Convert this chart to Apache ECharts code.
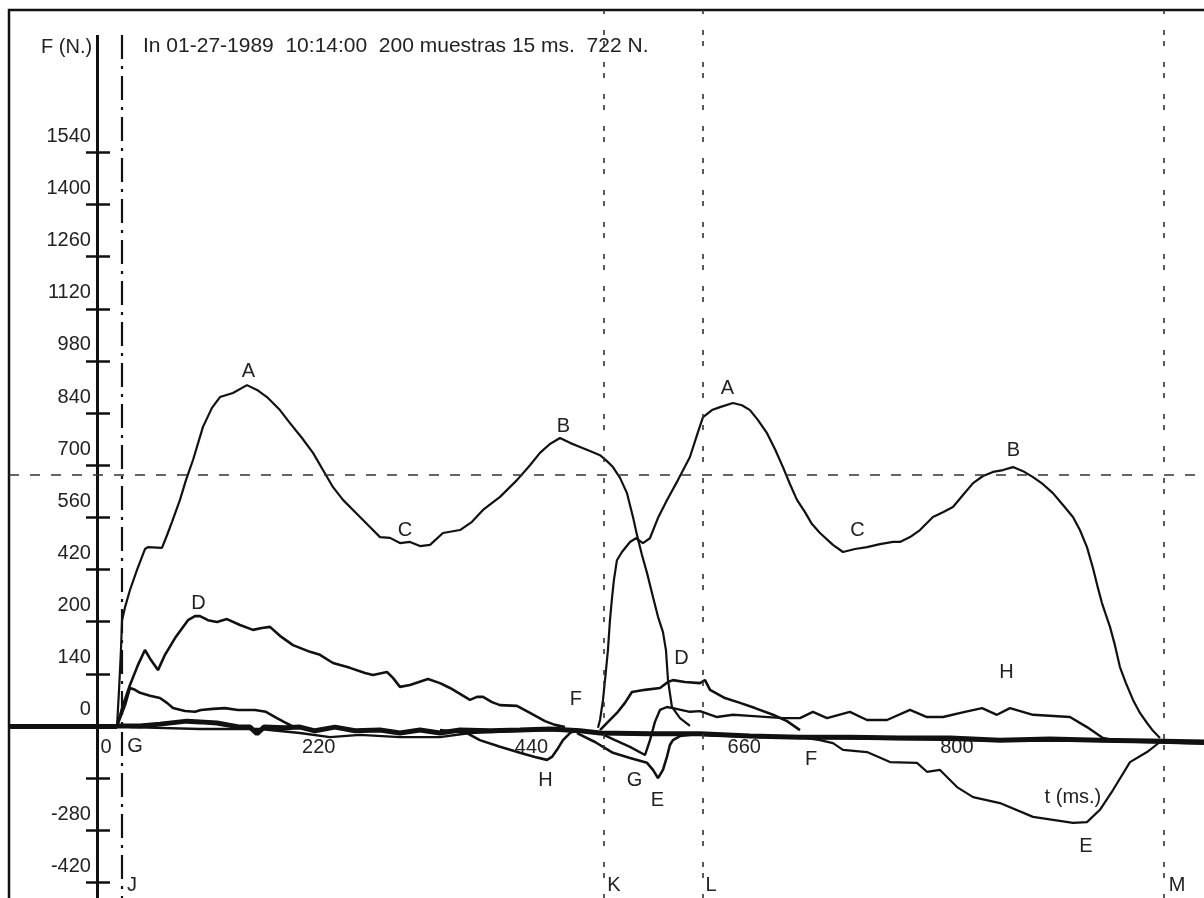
<!DOCTYPE html>
<html><head><meta charset="utf-8">
<script src="https://cdn.jsdelivr.net/npm/echarts@6/dist/echarts.min.js"></script>
<style>html,body{margin:0;padding:0;background:#fff}#c{width:1204px;height:898px}</style>
</head><body><div id="c"></div>
<script>
// ---- axis ticks / labels ----
const yTickValues = [-420,-280,-140,140,280,420,560,700,840,980,1120,1260,1400,1540];
const yLabelValues = [-420,-280,0,140,280,420,560,700,840,980,1120,1260,1400,1540];
const yLabelTexts  = ['-420','-280','0','140','200','420','560','700','840','980','1120','1260','1400','1540'];
const xLabelValues = [0,220,440,660,880];
const xLabelTexts  = ['0','220','440','660','800'];

// ---- event markers (ms) and reference force (N) ----
const markerJ = 26, markerK = 524, markerL = 626, markerM = 1103;
const refForce = 675;
const traceStart = 20.7;

// ---- traces [t (ms), F (N)] ----
const fz1 = [[20.7,0],[22.8,97],[24.8,204],[25.9,284],[29,319],[34.1,365],[41.4,419],[49.6,475],[52.7,480],[67.2,478],[72.4,512],[77.6,548],[85.8,607],[92,660],[99.3,714],[109.6,803],[118.9,854],[127.2,883],[140.6,894],[155.1,915],[165.5,902],[175.8,883],[189.2,848],[199.6,813],[212,773],[223.4,733],[233.7,687],[244.1,641],[254.4,607],[272,561],[282.3,534],[292.7,507],[303,505],[313.3,491],[323.7,494],[334,483],[344.4,486],[357.8,518],[375.4,526],[387.8,548],[399.2,580],[416.8,615],[434.3,660],[447.8,700],[458.1,733],[468.4,757],[478.8,773],[489.1,760],[499.5,749],[509.8,738],[520.2,727],[527.4,711],[533.6,695],[540.9,666],[548.1,625],[554.3,561],[558.4,513],[563.6,459],[568.8,411],[575,346],[580.2,293],[585.3,252],[588.4,204],[590.5,123],[594.6,51],[602.9,21],[613.2,0]];
const fz2 = [[518.1,-5],[520.2,16],[523.3,70],[526.4,150],[528.4,204],[530.5,284],[532.6,343],[534.6,392],[537.7,445],[542.9,467],[551.2,494],[557.4,504],[564.6,491],[571.8,504],[580.1,558],[589.4,606],[600.8,660],[613.2,722],[621.5,789],[626.7,829],[636,848],[644.3,856],[657.7,867],[667,861],[675.3,848],[683.6,821],[692.9,786],[701.2,743],[709.4,695],[716.7,649],[723.9,607],[732.2,574],[739.4,542],[747.7,518],[761.1,486],[771.5,467],[783.9,475],[796.3,480],[809.7,488],[823.2,494],[830.4,494],[840.8,507],[851.1,526],[864.5,561],[874.9,574],[885.2,588],[895.6,620],[906,652],[916.3,671],[926.6,682],[937,687],[947.3,695],[957.7,684],[968,668],[978.3,649],[988.6,625],[999,593],[1009.3,561],[1016.5,526],[1023.8,480],[1030,424],[1035.2,370],[1039.3,330],[1043.4,298],[1047.6,266],[1052.7,217],[1057.9,158],[1064.1,115],[1071.4,70],[1078.6,35],[1085.9,8],[1092.1,-13],[1099.3,-32]];
const d1 = [[20.7,0],[26.9,56],[34.1,110],[42.4,164],[49.6,204],[55.8,177],[63.1,150],[70.3,191],[80.7,236],[94.1,284],[101.3,295],[106.5,295],[114.8,284],[124.1,279],[134.4,287],[147.9,271],[161.3,258],[170.6,263],[178.9,266],[189.2,242],[202.7,217],[220.3,199],[230.6,191],[244.1,169],[261.6,156],[277.2,142],[285.4,137],[299.9,145],[306.1,129],[313.3,105],[323.7,110],[342.3,126],[354.7,115],[365.1,102],[375.4,86],[385.7,70],[393,78],[399.2,78],[408.5,64],[416.8,56],[434.3,54],[447.8,35],[463.3,13],[473.6,3],[484,-3]];
const g1 = [[20.7,0],[29,56],[34.1,102],[39.3,97],[44.5,89],[54.8,81],[65.1,75],[72.4,62],[78.6,48],[91,40],[101.3,38],[107.5,43],[119.9,46],[132.3,48],[145.7,43],[163.3,43],[174.7,38],[186.1,21],[193.3,11],[201.6,0]];
const base1 = [[20.7,0],[44.5,0],[65.1,5],[93.1,13],[106.5,11],[124.1,8],[147.9,-3],[158.2,-3],[165.5,-21],[172.7,-3],[194.4,-5],[209.9,-3],[225.4,-13],[246.1,-3],[266.8,-13],[292.7,-11],[313.3,-19],[334,-11],[354.7,-19],[375.4,-11],[406.4,-13],[437.4,-11],[468.5,-8],[499.5,-13],[520.2,-19],[571.9,-21],[623.6,-21],[675.3,-27],[727,-30],[778.6,-30],[830.4,-32],[882.1,-32],[933.8,-38],[985.5,-35],[1037.2,-38],[1088.9,-40],[1144.8,-43]];
const base2 = [[34.1,-3],[106.5,-8],[168.6,-8],[209.9,-19],[241,-30],[272,-24],[313.3,-30],[354.7,-30],[385.7,-19],[437.4,-13],[478.8,-11],[520.2,-19],[623.6,-24],[727,-32],[830.4,-35],[933.8,-40],[1037.2,-40],[1144.8,-48]];
const h1 = [[354.7,-11],[382.6,-19],[395.9,-38],[416.8,-56],[437.4,-72],[452.9,-83],[465.4,-91],[470.5,-83],[475.7,-64],[481.9,-38],[489.1,-19],[497.4,-8]];
const e1 = [[496.4,-19],[515,-43],[533.6,-72],[551.2,-86],[568.8,-99],[575,-118],[580.2,-140],[585.3,-118],[589.4,-83],[592.5,-51],[595.6,-38],[602.9,-27],[623.6,-21]];
const h2 = [[520.2,-19],[535.7,-38],[551.2,-56],[566.7,-78],[571.9,-38],[577,11],[582.2,43],[589.4,51],[595.6,48],[613.2,38],[623.6,40],[641.2,24],[657.7,30],[675.3,27],[709.4,21],[727,21],[740.4,38],[755,21],[778.6,38],[796.3,16],[817,16],[840.8,43],[858.3,24],[874.9,24],[897.6,38],[915.3,48],[930.7,30],[944.2,48],[968,30],[1006.2,24],[1023.8,-3],[1040.3,-32],[1052.7,-38]];
const d2 = [[520.2,-11],[528.5,11],[537.7,35],[546,62],[553.2,91],[566.7,97],[582.2,102],[590.5,118],[595.6,123],[608,118],[623.6,115],[628.8,123],[634,97],[649.4,75],[665,62],[680.5,48],[699.1,30],[713.6,13],[727,-11]];
const e2 = [[623.6,-24],[685.6,-30],[727,-30],[747.7,-38],[761.1,-46],[771.5,-64],[796.3,-70],[820.1,-97],[848,-99],[858.3,-123],[871.8,-118],[889.4,-164],[906,-191],[933.8,-207],[968,-244],[1009.3,-260],[1023.8,-258],[1037.2,-225],[1050.7,-172],[1068.3,-97],[1085.9,-70],[1099.3,-43]];

// ---- text annotations [t, F, text] ----
const annotations = [
  [156.5,952,'A'],[318.5,524,'C'],[482.4,804,'B'],
  [652,905,'A'],[786.4,525,'C'],[947.8,740,'B'],
  [105,329,'D'],[604.4,181,'D'],[495.3,71,'F'],[463.8,-145,'H'],
  [555.8,-145,'G'],[579.6,-199,'E'],[738.4,-90,'F'],[940.5,144,'H'],
  [1022.8,-323,'E'],[1009.3,-192,'t (ms.)'],[39.3,-56,'G'],
  [36.2,-427,'J'],[534.6,-427,'K'],[635,-427,'L'],[1116.9,-427,'M']
];

const FONT = 'Liberation Sans, Arial, Helvetica, sans-serif';
const INK = '#111';
const XMIN = -91, XMAX = 1150;
const YMIN = -494, YMAX = 1922, YTOP = 1855;
const GRID = { left: 9, top: 10, width: 1200, height: 900 };
// axis offsets so that the axes cross at (0, 0)
const yAxisOffset = -GRID.width * (0 - XMIN) / (XMAX - XMIN);
const xAxisOffset = -GRID.height * (0 - YMIN) / (YMAX - YMIN);

function lineSeries(name, data, width) {
  return { name, type: 'line', data, showSymbol: false, symbol: 'none',
    lineStyle: { color: INK, width }, z: 3, silent: true };
}

const series = [
  lineSeries('Fz1', fz1, 2.2),
  lineSeries('Fz2', fz2, 2.2),
  lineSeries('D1', d1, 2.6),
  lineSeries('G1', g1, 2.6),
  lineSeries('base1', base1, 5),
  lineSeries('base2', base2, 2.4),
  lineSeries('H1', h1, 2.6),
  lineSeries('E1', e1, 2.6),
  lineSeries('H2', h2, 2.4),
  lineSeries('D2', d2, 2.6),
  lineSeries('E2', e2, 2.2)
];

series[4].markLine = {
  silent: true, symbol: 'none', label: { show: false },
  data: [
    [{ coord: [XMIN, 0], lineStyle: { color: INK, width: 5, type: 'solid' } }, { coord: [traceStart, 0] }],
    [{ coord: [0, YTOP], lineStyle: { color: INK, width: 3, type: 'solid' } }, { coord: [0, YMIN] }],
    [{ coord: [markerJ, YTOP], lineStyle: { color: INK, width: 2.2, type: [24, 7, 3, 7] } }, { coord: [markerJ, YMIN] }],
    { xAxis: markerK, lineStyle: { color: '#333', width: 1.6, type: [5, 6, 5, 16] } },
    { xAxis: markerL, lineStyle: { color: '#333', width: 1.6, type: [5, 6, 5, 16] } },
    { xAxis: markerM, lineStyle: { color: '#333', width: 1.6, type: [5, 6, 5, 16] } },
    { yAxis: refForce, lineStyle: { color: '#333', width: 1.6, type: [10, 11] } }
  ]
};
series[0].markPoint = {
  silent: true, symbol: 'circle', symbolSize: 1, itemStyle: { color: 'rgba(0,0,0,0)' },
  label: { show: true, position: 'inside', formatter: '{b}', color: '#222', fontSize: 20, fontFamily: FONT },
  data: annotations.map(a => ({ coord: [a[0], a[1]], name: a[2] }))
};

const chart = echarts.init(document.getElementById('c'), null, { renderer: 'canvas' });
chart.setOption({
  animation: false,
  backgroundColor: '#fff',
  title: [
    { text: 'F (N.)', left: 41, top: 37, padding: 0, textStyle: { fontSize: 20, fontWeight: 'normal', color: '#222', fontFamily: FONT } },
    { text: 'In 01-27-1989  10:14:00  200 muestras 15 ms.  722 N.', left: 143, top: 36, padding: 0,
      textStyle: { fontSize: 21, fontWeight: 'normal', color: '#222', fontFamily: FONT } }
  ],
  grid: Object.assign({ show: true, borderColor: INK, borderWidth: 2.5, containLabel: false, outerBoundsMode: 'none' }, GRID),
  xAxis: {
    type: 'value', min: XMIN, max: XMAX, position: 'bottom', offset: xAxisOffset,
    axisLine: { show: false, onZero: false },
    axisTick: { show: false }, splitLine: { show: false },
    axisLabel: { show: true, customValues: xLabelValues, margin: 12, color: '#222', fontSize: 20, fontFamily: FONT,
      padding: [0, 0, 0, 18], align: 'center', showMinLabel: true, showMaxLabel: true,
      formatter: v => { const i = xLabelValues.indexOf(v); return i < 0 ? '' : xLabelTexts[i]; } }
  },
  yAxis: [
    {
      type: 'value', min: YMIN, max: YMAX, position: 'left', offset: yAxisOffset,
      axisLine: { show: false, onZero: false },
      axisTick: { show: true, inside: false, length: 11, customValues: yTickValues, lineStyle: { color: INK, width: 2.5 } },
      splitLine: { show: false },
      axisLabel: { show: true, customValues: yLabelValues, margin: 6, color: '#222', fontSize: 20, fontFamily: FONT,
        verticalAlign: 'bottom', lineHeight: 32, showMinLabel: true, showMaxLabel: true, hideOverlap: false,
        formatter: v => { const i = yLabelValues.indexOf(v); return i < 0 ? '' : yLabelTexts[i]; } }
    },
    {
      type: 'value', min: YMIN, max: YMAX, position: 'left', offset: yAxisOffset,
      axisLine: { show: false, onZero: false },
      axisTick: { show: true, inside: true, length: 13, customValues: yTickValues, lineStyle: { color: INK, width: 2.5 } },
      axisLabel: { show: false }, splitLine: { show: false }
    }
  ],
  series
});
</script></body></html>
